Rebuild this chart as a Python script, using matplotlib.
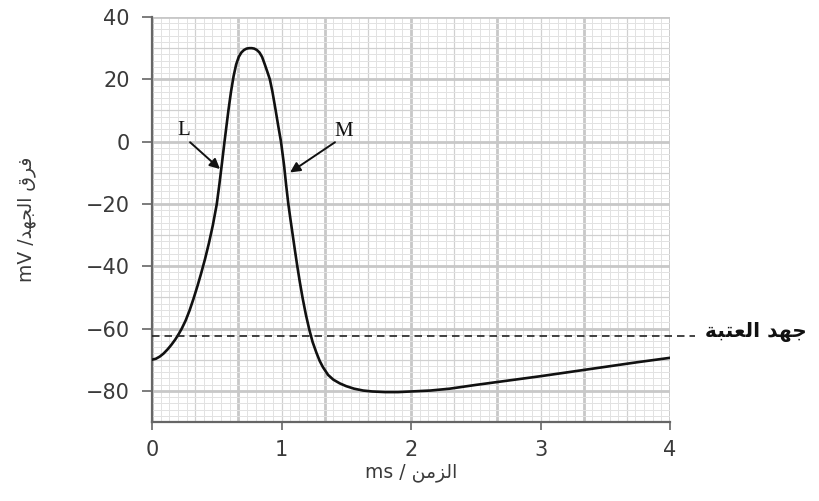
import numpy as np
import matplotlib
matplotlib.use("Agg")
from matplotlib import pyplot as plt

# ---- data
t_ms = [0.00, 0.03, 0.06, 0.09, 0.12, 0.15, 0.18, 0.21, 0.23, 0.26, 0.29, 0.32,
        0.35, 0.38, 0.41, 0.44, 0.47, 0.50, 0.52, 0.54, 0.56, 0.59, 0.61, 0.63,
        0.65, 0.67, 0.69, 0.71, 0.73, 0.75, 0.77, 0.79, 0.81, 0.83, 0.85, 0.87,
        0.89, 0.91, 0.93, 0.955, 0.975, 0.996, 1.02, 1.036, 1.053, 1.07, 1.086,
        1.104, 1.122, 1.142, 1.163, 1.188, 1.215, 1.24, 1.27, 1.295, 1.32, 1.36,
        1.40, 1.45, 1.50, 1.56, 1.63, 1.70, 1.80, 1.90, 2.00, 2.15, 2.30, 2.50,
        2.75, 3.00, 3.25, 3.50, 3.75, 4.00]
v_mv = [-70.0, -69.7, -69.0, -68.0, -66.7, -65.2, -63.5, -61.5, -60.0, -57.4, -54.2, -50.5,
        -46.5, -42.2, -37.6, -32.5, -26.8, -20.1, -13.8, -7.0, 0.0, 10.0, 16.0, 21.0,
        24.8, 27.2, 28.6, 29.4, 29.85, 30.0, 30.0, 29.85, 29.4, 28.6, 27.2, 24.9,
        22.5, 20.0, 16.0, 10.0, 5.0, 0.0, -7.7, -14.0, -20.1, -25.2, -29.8,
        -35.0, -40.0, -45.2, -50.2, -55.5, -60.4, -64.3, -67.8, -70.4, -72.4, -74.9,
        -76.4, -77.6, -78.5, -79.3, -79.9, -80.2, -80.4, -80.4, -80.2, -79.9, -79.3, -78.1,
        -76.7, -75.3, -73.8, -72.3, -70.8, -69.4]
threshold = -62.5

x_ticks = [0, 1, 2, 3, 4]
y_ticks = [40, 20, 0, -20, -40, -60, -80]

# Arabic text in visual order with presentation forms (no shaping in matplotlib)
threshold_label = "\uFE94\uFE92\uFE98\uFECC\uFEDF\uFE8D \uFEAA\uFEEC\uFE9F"      # جهد العتبة
x_label = "ms / \uFEE6\uFEE3\uFEB0\uFEDF\uFE8D"                                  # الزمن / ms
y_label = "mV /\uFEAA\uFEEC\uFEA0\uFEDF\uFE8D \uFED5\uFEAE\uFED3"               # فرق الجهد/ mV

fig = plt.figure(figsize=(8.19, 5.01), dpi=100)
ax = fig.add_axes([152/819, 1 - 422/501, (670-152)/819, (422-17)/501])
ax.set_xlim(0, 4)
ax.set_ylim(-90, 40)

# graph paper
for xv in np.arange(0, 4.001, 1/15):
    ax.axvline(xv, color="#e2e2e2", lw=0.7, zorder=0)
for xv in np.arange(0, 4.001, 1/3):
    ax.axvline(xv, color="#d0d0d0", lw=0.9, zorder=0)
for xv in np.arange(0, 4.001, 2/3):
    ax.axvline(xv, color="#c8c8c8", lw=2.0, zorder=0)
for yv in np.arange(-90, 40.01, 2):
    ax.axhline(yv, color="#e2e2e2", lw=0.7, zorder=0)
for yv in np.arange(-90, 40.01, 10):
    ax.axhline(yv, color="#d0d0d0", lw=0.9, zorder=0)
for yv in np.arange(-80, 40.01, 20):
    ax.axhline(yv, color="#c8c8c8", lw=2.0, zorder=0)

ax.plot(t_ms, v_mv, color="#111111", lw=1.9, zorder=3,
        solid_capstyle="round", solid_joinstyle="round")

# threshold dashed line running past the axes
ax.plot([0, 4.19], [threshold, threshold], color="#222222", lw=1.2,
        dashes=(4.5, 3), clip_on=False, zorder=3)
ax.text(4.27, threshold + 1.5, threshold_label, fontsize=14.5, fontweight="bold",
        ha="left", va="center", color="#111111", clip_on=False,
        family="DejaVu Sans")

# L and M labels with arrows
ax.annotate("", xy=(0.525, -8.8), xytext=(0.294, -0.2),
            arrowprops=dict(arrowstyle="-|>", color="#111111", lw=1.4,
                            mutation_scale=15, shrinkA=0, shrinkB=0), zorder=4)
ax.annotate("", xy=(1.066, -9.9), xytext=(1.413, -0.2),
            arrowprops=dict(arrowstyle="-|>", color="#111111", lw=1.4,
                            mutation_scale=15, shrinkA=0, shrinkB=0), zorder=4)
ax.text(0.245, 3.5, "L", fontsize=15, family="Liberation Serif",
        ha="center", va="center", color="#111111")
ax.text(1.48, 3.3, "M", fontsize=15, family="Liberation Serif",
        ha="center", va="center", color="#111111")

# axes styling
for side in ["top", "right"]:
    ax.spines[side].set_visible(False)
for side in ["left", "bottom"]:
    ax.spines[side].set_color("#666666")
    ax.spines[side].set_linewidth(1.6)
ax.set_xticks(x_ticks)
ax.set_yticks(y_ticks)
ax.set_yticklabels([str(v).replace("-", "\u2212") for v in y_ticks])
ax.tick_params(axis="y", length=7, width=1.2, color="#666666", labelsize=15,
               labelcolor="#3a3a3a", pad=9)
ax.tick_params(axis="x", length=6, width=1.2, color="#666666", labelsize=15,
               labelcolor="#3a3a3a", pad=7)

ax.set_xlabel(x_label, fontsize=13.5, color="#3a3a3a", labelpad=2, family="DejaVu Sans")
ax.set_ylabel(y_label, fontsize=13.5, color="#3a3a3a", labelpad=36, family="DejaVu Sans")

fig.savefig("out.png", dpi=100)
